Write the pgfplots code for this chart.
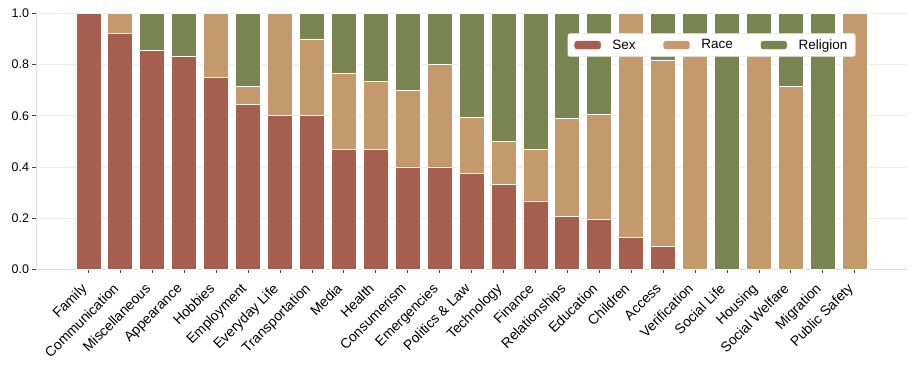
\documentclass[border=0pt]{standalone}
\usepackage{pgfplots}
\usepackage{pgfplotstable}
\usepackage{fontspec}
\setmainfont{Liberation Sans}
\pgfplotsset{compat=1.18}

\definecolor{sexc}{HTML}{A65E4E}
\definecolor{racec}{HTML}{C4996B}
\definecolor{relc}{HTML}{7A8450}
\definecolor{gridc}{HTML}{EDEDED}
\definecolor{spinec}{HTML}{DDDDDD}

% shares per category: sex, race, religion
\pgfplotstableread{
x   sex    race   rel
0   1.000  0.000  0.000
1   0.923  0.077  0.000
2   0.857  0.000  0.143
3   0.833  0.000  0.167
4   0.750  0.250  0.000
5   0.643  0.071  0.286
6   0.600  0.400  0.000
7   0.600  0.300  0.100
8   0.467  0.300  0.233
9   0.467  0.267  0.266
10  0.400  0.300  0.300
11  0.400  0.400  0.200
12  0.375  0.219  0.406
13  0.333  0.167  0.500
14  0.267  0.200  0.533
15  0.205  0.385  0.410
16  0.195  0.410  0.395
17  0.125  0.875  0.000
18  0.091  0.727  0.182
19  0.000  0.875  0.125
20  0.000  0.000  1.000
21  0.000  0.875  0.125
22  0.000  0.714  0.286
23  0.000  0.000  1.000
24  0.000  1.000  0.000
}\shares

\begin{document}
\begin{tikzpicture}
\begin{axis}[
    scale only axis,
    width=871pt, height=256pt,
    ybar stacked,
    bar width=25pt,
    xmin=-1.64, xmax=25.64,
    ymin=0, ymax=1,
    xtick=data,
    xticklabels={Family,Communication,Miscellaneous,Appearance,Hobbies,Employment,Everyday Life,Transportation,Media,Health,Consumerism,Emergencies,Politics \& Law,Technology,Finance,Relationships,Education,Children,Access,Verification,Social Life,Housing,Social Welfare,Migration,Public Safety},
    xticklabel style={xshift=-8pt, yshift=-8pt, rotate=45, anchor=north east, inner sep=1pt, font=\fontsize{14}{16}\selectfont},
    ytick={0,0.2,0.4,0.6,0.8,1.0},
    yticklabel style={font=\fontsize{12.5}{14}\selectfont},
    /pgf/number format/assume math mode=true,
    /pgf/number format/.cd, fixed, fixed zerofill, precision=1, /pgfplots/.cd,
    axis x line*=bottom, axis y line*=left,
    axis line style={-, draw=spinec, line width=0.8pt},
    tick align=outside,
    major tick length=3.5pt,
    tick style={draw=black!75, line width=0.6pt},
    ymajorgrids,
    grid style={draw=gridc, line width=0.6pt},
    legend style={at={(0.941,0.922)}, anchor=north east, legend columns=3,
        draw=black!15, rounded corners=2.5pt, inner xsep=6pt, inner ysep=4pt,
        font=\fontsize{13.5}{15}\selectfont,
        /tikz/every odd column/.append style={column sep=9pt},
        /tikz/every even column/.append style={column sep=25pt}},
    legend image code/.code={\fill[#1] (0pt,-4.5pt) rectangle (27pt,4.5pt);},
    every axis plot/.append style={draw=white, line width=0.7pt},
]
\addplot[fill=sexc] table[x=x, y=sex] {\shares};
\addplot[fill=racec] table[x=x, y=race] {\shares};
\addplot[fill=relc] table[x=x, y=rel] {\shares};
\legend{Sex, Race, Religion}
\coordinate (sw) at (rel axis cs:0,0);
\coordinate (ne) at (rel axis cs:1,1);
\end{axis}
\pgfresetboundingbox
\path[use as bounding box] ([shift={(-36pt,-104.7pt)}]sw) rectangle ([shift={(7pt,13.3pt)}]ne);
\end{tikzpicture}
\end{document}
